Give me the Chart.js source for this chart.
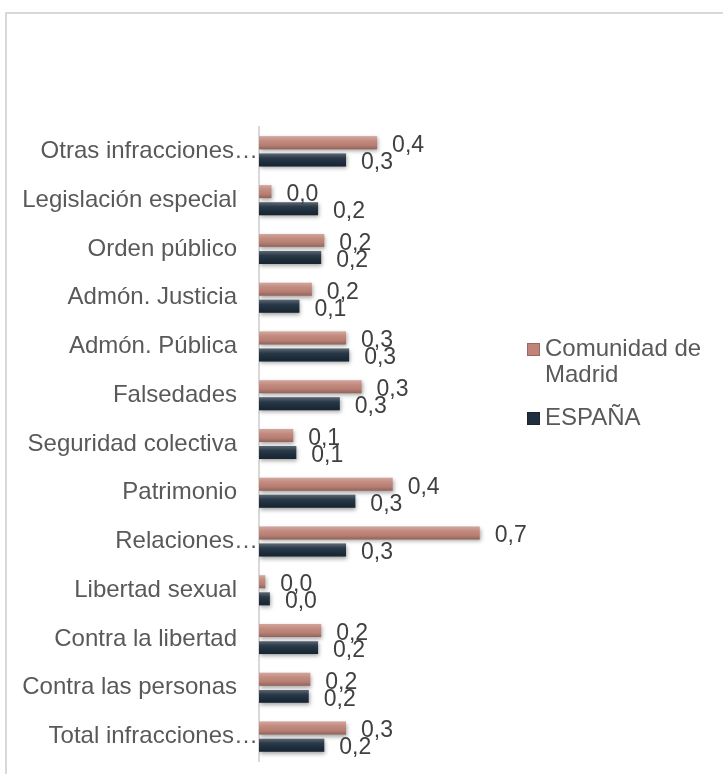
<!DOCTYPE html>
<html>
<head>
<meta charset="utf-8">
<script src="https://cdn.jsdelivr.net/npm/chart.js@4/dist/chart.umd.min.js"></script>
<style>
    html, body { margin: 0; padding: 0; background: #fff; overflow: hidden; }
    #wrap { position: relative; width: 723px; height: 774px; }
    #frame { position: absolute; left: 5px; top: 12px; width: 800px; height: 800px;
             border-left: 2px solid #d9d9d9; border-top: 2px solid #d9d9d9; }
    canvas { position: absolute; left: 0; top: 0; }
</style>
</head>
<body>
<div id="wrap">
    <div id="frame"></div>
    <canvas id="delitosChart" width="723" height="774"></canvas>
</div>
<script>
const categories = [
    'Otras infracciones…', 'Legislación especial', 'Orden público', 'Admón. Justicia',
    'Admón. Pública', 'Falsedades', 'Seguridad colectiva', 'Patrimonio',
    'Relaciones…', 'Libertad sexual', 'Contra la libertad', 'Contra las personas',
    'Total infracciones…'
];
const madridValues = [0.38, 0.04, 0.21, 0.17, 0.28, 0.33, 0.11, 0.43, 0.71, 0.02, 0.20, 0.165, 0.28];
const espanaValues = [0.28, 0.19, 0.20, 0.13, 0.29, 0.26, 0.12, 0.31, 0.28, 0.035, 0.19, 0.16, 0.21];
const seriesNames = [['Comunidad de', 'Madrid'], ['ESPAÑA']];

const FONT = '"Liberation Sans", Arial, sans-serif';

const decorPlugin = {
    id: 'decor',
    beforeDatasetsDraw(chart) {
        const ctx = chart.ctx;
        ctx.save();
        ctx.shadowColor = 'rgba(0,0,0,0.35)';
        ctx.shadowBlur = 4;
        ctx.shadowOffsetX = 1;
        ctx.shadowOffsetY = 2;
    },
    afterDatasetsDraw(chart) {
        const ctx = chart.ctx;
        ctx.restore();

        // bevel shading on every bar
        chart.data.datasets.forEach((ds, di) => {
            chart.getDatasetMeta(di).data.forEach(bar => {
                const top = bar.y - bar.height / 2;
                const left = Math.min(bar.x, bar.base);
                const w = Math.abs(bar.x - bar.base);
                const g = ctx.createLinearGradient(0, top, 0, top + bar.height);
                g.addColorStop(0, 'rgba(255,255,255,0.28)');
                g.addColorStop(0.35, 'rgba(255,255,255,0.05)');
                g.addColorStop(0.7, 'rgba(0,0,0,0.05)');
                g.addColorStop(1, 'rgba(0,0,0,0.25)');
                ctx.fillStyle = g;
                ctx.fillRect(left, top, w, bar.height);
            });
        });

        // value labels
        ctx.save();
        ctx.font = '23px ' + FONT;
        ctx.fillStyle = '#404040';
        ctx.textBaseline = 'middle';
        ctx.textAlign = 'left';
        chart.data.datasets.forEach((ds, di) => {
            chart.getDatasetMeta(di).data.forEach((bar, i) => {
                const txt = ds.data[i].toFixed(1).replace('.', ',');
                ctx.fillText(txt, bar.x + 15, bar.y + 3);
            });
        });
        ctx.restore();
    },
    afterDraw(chart) {
        const ctx = chart.ctx;
        const yScale = chart.scales.y;
        const area = chart.chartArea;
        ctx.save();
        ctx.font = '24px ' + FONT;
        ctx.fillStyle = '#595959';
        ctx.textBaseline = 'middle';
        ctx.textAlign = 'right';
        chart.data.labels.forEach((lab, i) => {
            const y = yScale.getPixelForTick(i);
            const x = lab.endsWith('…') ? area.left - 1 : area.left - 22;
            ctx.fillText(lab, x, y);
        });

        // legend
        const lx = area.right + 10;
        let ly = 349;
        chart.data.datasets.forEach((ds, di) => {
            ctx.fillStyle = ds.backgroundColor;
            ctx.fillRect(lx, ly - 6, 13, 13);
            ctx.strokeStyle = 'rgba(0,0,0,0.2)';
            ctx.strokeRect(lx + 0.5, ly - 5.5, 12, 12);
            ctx.fillStyle = '#595959';
            ctx.textAlign = 'left';
            seriesNames[di].forEach((line, li) => {
                ctx.fillText(line, lx + 18, ly + li * 26);
            });
            ly += seriesNames[di].length * 26 + 17;
        });
        ctx.restore();
    }
};

const ctx = document.getElementById('delitosChart').getContext('2d');
new Chart(ctx, {
    type: 'bar',
    data: {
        labels: categories,
        datasets: [
            {
                label: 'Comunidad de Madrid',
                data: madridValues,
                backgroundColor: '#c08478',
                borderWidth: 0,
                categoryPercentage: 0.7,
                barPercentage: 0.76
            },
            {
                label: 'ESPAÑA',
                data: espanaValues,
                backgroundColor: '#1f2f3f',
                borderWidth: 0,
                categoryPercentage: 0.7,
                barPercentage: 0.76
            }
        ]
    },
    options: {
        indexAxis: 'y',
        responsive: false,
        animation: false,
        layout: { padding: { top: 127, bottom: 13, left: 0, right: 206 } },
        plugins: {
            legend: { display: false },
            tooltip: { enabled: false }
        },
        scales: {
            x: { display: false, min: 0, max: 0.83 },
            y: {
                ticks: { display: false },
                grid: { display: false },
                border: { display: true, color: '#d9d9d9', width: 2 },
                afterFit(scale) { scale.width = 259; }
            }
        }
    },
    plugins: [decorPlugin]
});
</script>
</body>
</html>
